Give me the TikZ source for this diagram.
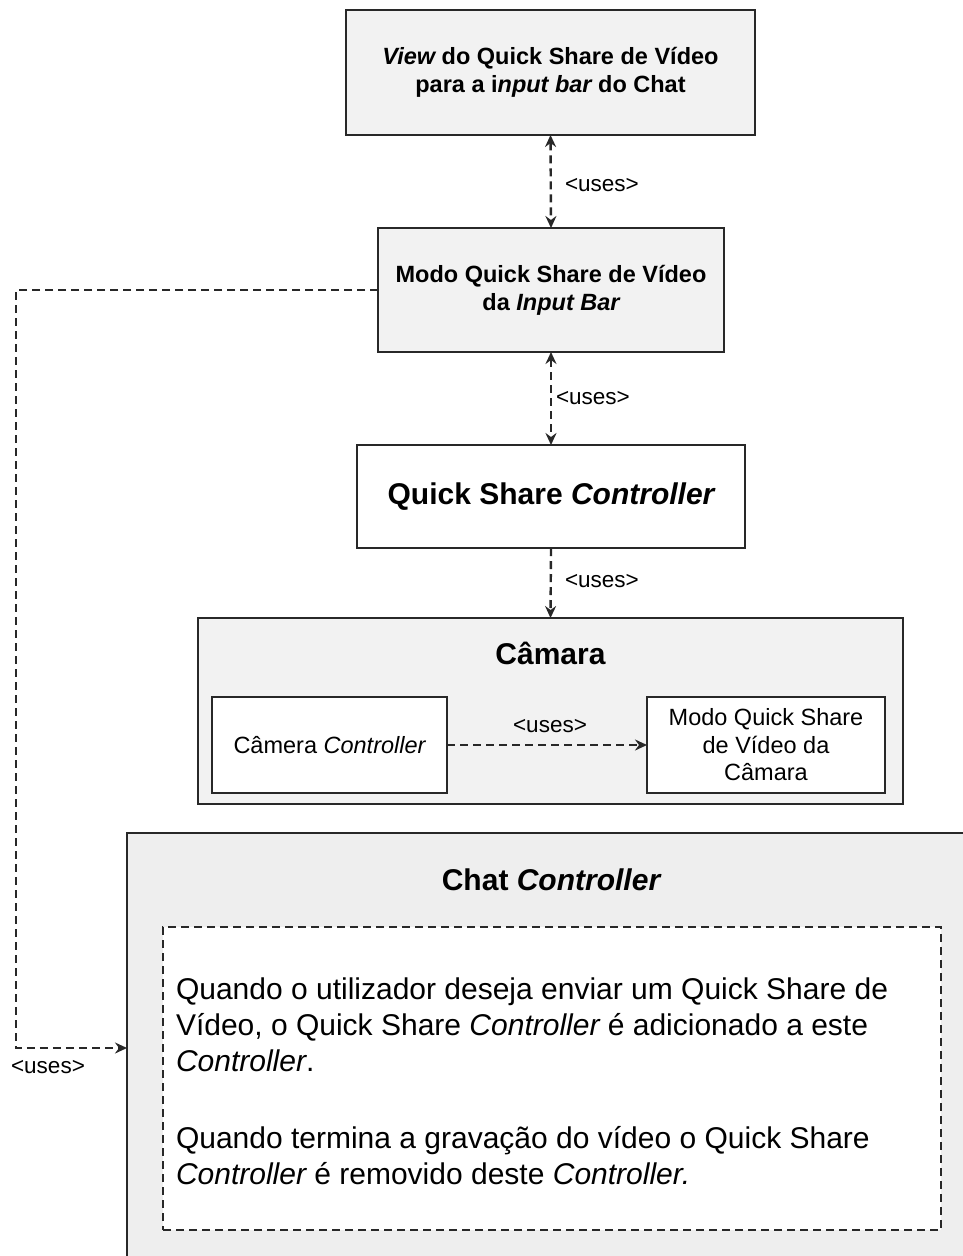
\documentclass[tikz,border=0pt]{standalone}
\usepackage{fontspec}
\setmainfont{Liberation Sans}
\usetikzlibrary{arrows.meta}
\definecolor{boxgray}{RGB}{242,242,242}
\definecolor{chatgray}{RGB}{238,238,238}
\definecolor{linec}{RGB}{40,40,40}
\begin{document}
\begin{tikzpicture}[x=1pt,y=-1pt,
  every node/.style={inner sep=0pt, outer sep=0pt},
  graybox/.style={draw=linec, line width=2pt, fill=boxgray, align=center,
    font=\fontsize{23.5}{28}\selectfont\bfseries},
  whitebox/.style={draw=linec, line width=2pt, fill=white, align=center,
    font=\fontsize{23.5}{27.5}\selectfont},
  bigtitle/.style={font=\fontsize{30}{36}\selectfont\bfseries},
  bodytext/.style={anchor=base west, font=\fontsize{30}{36}\selectfont},
  uselabel/.style={font=\fontsize{22.5}{27}\selectfont},
  dep/.style={draw=linec, line width=2.4pt, dash pattern=on 8pt off 5pt},
  tip/.tip={Stealth[length=12pt,width=11pt,inset=4pt]}
]
\clip (0,0) rectangle (963,1256);
\fill[white] (0,0) rectangle (963,1256);

% top boxes
\node[graybox, minimum width=409pt, minimum height=125pt] (view) at (550.5,72.5)
  {{\itshape View} do Quick Share de Vídeo\\para a i{\itshape nput bar} do Chat};
\node[graybox, minimum width=346pt, minimum height=124pt] (modo) at (551,290)
  {Modo Quick Share de Vídeo\\da {\itshape Input Bar}};
\node[draw=linec, line width=2pt, fill=white, minimum width=388pt, minimum height=103pt,
  font=\fontsize{30}{36}\selectfont\bfseries] (qsc) at (551,496.5)
  {Quick Share {\itshape Controller}};

% camara group
\node[draw=linec, line width=2pt, fill=boxgray, minimum width=705pt, minimum height=186pt] (camara) at (550.5,711) {};
\node[bigtitle] (camtitle) at (550.5,653) {Câmara};
\node[whitebox, minimum width=235pt, minimum height=96pt] (camctrl) at (329.5,745)
  {Câmera {\itshape Controller}};
\node[whitebox, minimum width=238pt, minimum height=96pt] (camqs) at (766,745)
  {Modo Quick Share\\de Vídeo da\\Câmara};

% chat controller
\node[draw=linec, line width=2pt, fill=chatgray, minimum width=863pt, minimum height=457pt] (chat) at (558.5,1061.5) {};
\node[bigtitle] (chattitle) at (551,880) {Chat {\itshape Controller}};
\node[dep, fill=white, minimum width=778pt, minimum height=303pt] (note) at (552,1078.5) {};
\node[bodytext] (l1) at (176,999) {Quando o utilizador deseja enviar um Quick Share de};
\node[bodytext] (l2) at (176,1035) {Vídeo, o Quick Share {\itshape Controller} é adicionado a este};
\node[bodytext] (l3) at (176,1071) {{\itshape Controller}.};
\node[bodytext] (l4) at (176,1148) {Quando termina a gravação do vídeo o Quick Share};
\node[bodytext] (l5) at (176,1184) {{\itshape Controller} é removido deste {\itshape Controller.}};

% connectors
\draw[dep, tip-tip] (view.south) -- (modo.north);
\node[uselabel, anchor=west] (u1) at (565,185) {<uses>};
\draw[dep, tip-tip] (modo.south) -- (qsc.north);
\node[uselabel, anchor=west] (u2) at (556,398) {<uses>};
\draw[dep, -tip] (qsc.south) -- (camara.north);
\node[uselabel, anchor=west] (u3) at (565,581) {<uses>};
\draw[dep, -tip] (camctrl.east) -- (camqs.west);
\node[uselabel] (u4) at (550,726) {<uses>};

\coordinate (bend) at (16,1048);
\draw[dep, -tip] (modo.west) -| (bend) -- (bend -| chat.west);
\node[uselabel] (u5) at (48,1067) {<uses>};
\end{tikzpicture}
\end{document}
